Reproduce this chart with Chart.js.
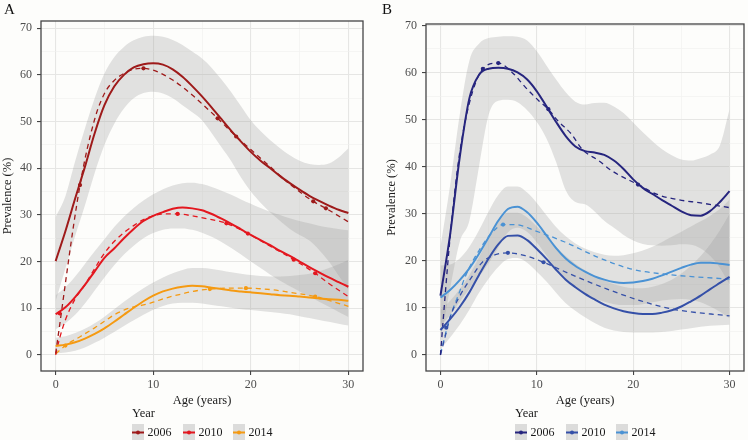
<!DOCTYPE html>
<html><head><meta charset="utf-8">
<script src="https://cdn.jsdelivr.net/npm/chart.js@4.4.1/dist/chart.umd.min.js"></script>
<style>
html,body{margin:0;padding:0;background:#fdfdfb;}
#wrap{position:relative;width:748px;height:440px;overflow:hidden;background:#fdfdfb;}
.pane{position:absolute;top:0;width:374px;height:440px;}
</style></head><body>
<div id="wrap">
<div class="pane" style="left:0"><canvas id="cA" width="374" height="440"></canvas></div>
<div class="pane" style="left:374px"><canvas id="cB" width="374" height="440"></canvas></div>
</div>
<script>
// ---------- shared categories / ticks ----------
const years = ['2006', '2010', '2014'];
const ageGrid = [0,1,2,3,4,5,6,7,8,9,10,11,12,13,14,15,16,17,18,19,20,21,22,23,24,25,26,27,28,29,30];
const xTicks = [0,5,10,15,20,25,30];
const yTicks = [0,5,10,15,20,25,30,35,40,45,50,55,60,65,70];

// ---------- Panel A : smooth fits (on ageGrid) ----------
const A2006fit = [20.1,26.5,33.5,40.3,47.5,53.5,57.5,60,61.6,62.3,62.5,62.2,61.2,59.6,57.6,55.4,53,50.5,48,45.7,43.5,41.6,40,38.3,36.8,35.4,34.1,33,32,31.1,30.4];
const A2006up  = [29.5,34,41.5,48.5,55,60.3,63.8,66,67.4,68.2,68.4,68.2,67.5,66.4,65,63.5,61.5,59,56.3,53.3,50.3,48,46,44.3,42.8,41.6,40.9,40.7,41,42.3,44.3];
const A2006lo  = [11.5,18.5,25.5,32,39,45,49.5,52.8,55,56.1,56.4,56,55,53.5,52,50.3,47.5,44.5,41.5,38,35,32.6,30.5,28.7,27,25.7,24.5,22.5,20,17,14];
const A2010fit = [8.7,10.2,12.4,15,17.9,20.8,22.8,25,27,28.7,29.8,30.6,31.3,31.6,31.4,31,30.2,29.2,28.1,26.9,25.7,24.6,23.5,22.3,21.2,20,18.8,17.7,16.6,15.6,14.6];
const A2010up  = [12.8,14.5,16.8,19.5,22.2,24.8,27.4,29.6,31.5,33.1,34.4,35.5,36.3,36.8,36.9,36.6,36,35.2,34.3,33.3,32.4,31.5,30.7,30,29.3,28.7,28.2,27.7,27.3,27,26.7];
const A2010lo  = [5.5,6.8,8.6,11,13.8,16.6,19.2,21.5,23.4,25,26.1,26.8,27.1,27.1,26.8,26.2,25.3,24.2,22.9,21.5,20,18.6,17.2,15.9,14.7,13.6,12.5,11.4,10.3,9.2,8.1];
const A2014fit = [1.9,2.2,2.7,3.5,4.5,5.7,7.1,8.6,10.1,11.5,12.7,13.6,14.2,14.6,14.8,14.7,14.4,14.1,13.8,13.6,13.4,13.2,13,12.8,12.7,12.5,12.3,12.1,11.9,11.8,11.6];
const A2014up  = [3.7,4,4.7,5.6,6.8,8.2,9.8,11.4,12.9,14.3,15.5,16.6,17.5,18.2,18.6,18.6,18.4,18.1,17.7,17.4,17.1,16.9,16.8,16.8,16.9,17.1,17.4,17.9,18.6,19.4,20.4];
const A2014lo  = [0.3,0.5,0.9,1.6,2.6,3.7,4.9,6.2,7.4,8.6,9.7,10.5,11,11.2,11.2,11,10.7,10.4,10.1,9.8,9.6,9.4,9.2,9,8.7,8.3,7.9,7.5,7.1,6.7,6.3];

// ---------- Panel A : observed (dashed) ----------
const A2006obsAge = [0,2.5,4,5,6,7,8,9,10,11,12,13,14,15,16.6,18.5,20,22,24,26.4,27.7,30];
const A2006obs    = [0.3,36.4,50.5,56,58.8,60.3,61.2,61.4,61,60.1,58.9,57.4,55.7,53.8,50.7,46.8,44,40.3,36.6,32.9,31.4,28.5];
const A2006ptAge  = [2.5,9,16.6,18.5,26.4,27.7];
const A2006pt     = [36.4,61.4,50.7,46.8,32.9,31.4];
const A2010obsAge = [0,0.4,1,2,3,4,5,6,7,8,9,10,11,12.5,14,15.5,17.5,19.7,22,24.4,26.6,28,30];
const A2010obs    = [0,3.5,7.5,12,15,18.5,21.8,24.3,26.2,27.7,29,29.8,30.2,30.2,29.8,29.2,28.2,26,23.3,20.4,17.5,15.3,12.5];
const A2010ptAge  = [0.4,12.5,17.5,19.7,24.4,26.6];
const A2010pt     = [8.9,30.2,28.2,26,20.4,17.5];
const A2014obsAge = [0,1,2.5,4,5,6,7,8,9,10,11,12,13,14,15.8,17.5,19.5,22,24,26.6,28,30];
const A2014obs    = [0.2,2,3.9,5.8,7.2,8.6,9.6,10.3,10.7,11.3,12,12.6,13.1,13.6,14.1,14.3,14.3,14,13.4,12.5,11.7,10.4];
const A2014ptAge  = [1,15.8,19.5,26.6];
const A2014pt     = [2,14.1,14.3,12.5];

// ---------- Panel B : smooth fits (on ageGrid) ----------
const B2006fit = [12.6,25.5,42,54.5,59.5,60.8,61,60.8,60,58.5,56,52.8,49.5,46.5,44.3,43.3,43,42.5,41.3,39.5,37.3,35.5,34.2,32.9,31.7,30.5,29.7,29.6,30.6,32.5,34.8];
const B2006up  = [23,36,51,62.5,66.1,67.3,67.6,67.7,67.6,66.8,64.5,61.5,58.5,55.8,53.8,53.2,53.5,53.6,52.8,51.4,49.4,47.3,45.4,43.7,42.4,41.5,41.3,41.8,42.6,44.5,52.2];
const B2006lo  = [3,14,24,28.5,40,51,54,54.2,53.7,52,49.5,46,41,35,32.5,32,30.5,28.5,27,25.5,24.3,23.6,23.3,23.2,23.3,23.5,23.4,22.6,21,18.5,15];
const B2010fit = [5.3,7.6,10.2,13.3,17,20.5,23.5,25.3,25.4,24.4,22.5,20.4,18.1,16,14.4,13,11.8,10.7,9.9,9.3,8.9,8.7,8.7,9,9.5,10.3,11.4,12.6,14,15.3,16.6];
const B2010up  = [9.5,11.5,14,17,20.8,24.8,28.3,30.2,30.2,29.2,27.3,25.2,23,21,19.4,18,16.8,15.8,15,14.5,14.2,14.2,14.5,15.1,16,17.3,19,21,23.5,26.5,30];
const B2010lo  = [1.2,3.7,6.4,9.6,13.2,16.2,18.7,20.4,20.6,19.6,17.7,15.6,13.2,11,9.4,8,6.8,5.8,5.2,4.9,4.8,4.8,4.8,4.9,5.1,5.4,5.7,6,6.2,6.3,6.4];
const B2014fit = [12.2,13.8,15.9,18.4,21.5,25,28.5,31,31.5,30.3,28.1,25.4,22.7,20.5,18.9,17.7,16.7,16,15.5,15.3,15.4,15.7,16.2,16.9,17.7,18.5,19.2,19.6,19.6,19.4,19.1];
const B2014up  = [19,19.2,20.5,23,26.5,30.5,34,35.8,35.8,34.5,32.3,29.7,27.2,25.2,23.7,22.6,21.8,21.3,21.1,21.2,21.6,22.2,23,24,25.1,26.2,27.3,28.4,29.6,31,33];
const B2014lo  = [6,8.5,11.3,14,16.6,19.5,22.8,26,27,26.1,23.9,21.1,18.3,16,14.3,13,12,11.3,10.8,10.6,10.6,10.8,11.2,11.6,11.8,11.9,11.7,11.2,10.3,9.2,7.8];

// ---------- Panel B : observed (dashed) ----------
const B2006obsAge = [0,0.5,1,1.5,2,3,4.4,6,7.6,8.8,10.2,11.2,12.2,13.6,14.7,16.4,17.8,20.5,22.5,24.6,27,30];
const B2006obs    = [0,13,25,35,43,53.5,60.8,62,59.7,56.9,54,52.2,49.7,46.9,43.7,41.3,39.1,36.2,34.1,33,32.3,31.3];
const B2006ptAge  = [4.4,6,11.2,20.5];
const B2006pt     = [60.8,62,52.2,36.2];
const B2010obsAge = [0,0.5,1,2,3,4.35,5.7,7,8.8,10.7,13.9,17.3,20.8,24.2,30];
const B2010obs    = [0,4,8,12.5,15.8,19.7,21.3,21.7,21.1,19.7,16.8,14,11.5,9.7,8.3];
const B2010ptAge  = [0.6,7,10.7];
const B2010pt     = [5.8,21.7,19.7];
const B2014obsAge = [0,1,2,2.6,4,5.4,6.5,7.8,9.8,12.9,16.3,19.7,23.1,30];
const B2014obs    = [0.3,8,13.5,16.8,22.2,26.1,27.7,27.7,26.4,24,20.8,18.3,17.2,16.1];
const B2014ptAge  = [6.5];
const B2014pt     = [27.7];

// ---------- styling ----------
const colorsA = ['#9e1a1a', '#e3171f', '#f59a12'];
const colorsB = ['#26257e', '#3550a8', '#4a92d4'];
const BAND = 'rgba(150,150,150,0.27)';
const FONT = '"Liberation Serif", "DejaVu Serif", serif';

function pts(xs, ys) { return xs.map((x, i) => ({x: x, y: ys[i]})); }

function buildDatasets(colors, fits, ups, los, obsAges, obs, ptAges, pt) {
  const ds = [];
  for (let k = 0; k < 3; k++) {
    ds.push({label: years[k] + ' fit', data: pts(ageGrid, fits[k]), borderColor: colors[k], borderWidth: 2,
      pointRadius: 0, fill: false, cubicInterpolationMode: 'monotone', order: 1});
    ds.push({label: years[k] + ' obs', data: pts(obsAges[k], obs[k]), borderColor: colors[k], borderWidth: 1.3,
      borderDash: [5, 4], pointRadius: 0, fill: false, cubicInterpolationMode: 'monotone', order: 2});
    ds.push({label: years[k] + ' pts', data: pts(ptAges[k], pt[k]), showLine: false, pointRadius: 2.1,
      pointBackgroundColor: colors[k], pointBorderWidth: 0, order: 0});
  }
  for (let k = 0; k < 3; k++) {
    ds.push({label: years[k] + ' upper', data: pts(ageGrid, ups[k]), borderWidth: 0, pointRadius: 0,
      backgroundColor: BAND, fill: '+1', cubicInterpolationMode: 'monotone', order: 3});
    ds.push({label: years[k] + ' lower', data: pts(ageGrid, los[k]), borderWidth: 0, pointRadius: 0,
      fill: false, cubicInterpolationMode: 'monotone', order: 3});
  }
  return ds;
}

const panelPlugin = {
  id: 'panelDeco',
  afterDraw(chart, args, opts) {
    const {ctx, chartArea: ca} = chart;
    ctx.save();
    ctx.strokeStyle = '#454545';
    ctx.lineWidth = 1.3;
    ctx.strokeRect(ca.left, ca.top, ca.right - ca.left, ca.bottom - ca.top);
    ctx.fillStyle = '#111';
    ctx.font = '15px ' + FONT;
    ctx.textBaseline = 'middle';
    ctx.textAlign = 'left';
    ctx.fillText(opts.tag, opts.tagX, 10);
    const left = (ca.left + ca.right) / 2 - 70;
    ctx.font = '12.5px ' + FONT;
    ctx.fillStyle = '#1a1a1a';
    ctx.fillText('Year', left, 414);
    ctx.font = '12px ' + FONT;
    const steps = [0, 51, 101];
    for (let k = 0; k < 3; k++) {
      const x = left + steps[k];
      ctx.fillStyle = '#dcdcdb';
      ctx.fillRect(x, 424, 12, 17);
      ctx.strokeStyle = opts.colors[k];
      ctx.lineWidth = 2;
      ctx.beginPath(); ctx.moveTo(x, 432.5); ctx.lineTo(x + 12, 432.5); ctx.stroke();
      ctx.fillStyle = opts.colors[k];
      ctx.beginPath(); ctx.arc(x + 6, 432.5, 2, 0, Math.PI * 2); ctx.fill();
      ctx.fillStyle = '#1a1a1a';
      ctx.fillText(years[k], x + 15.5, 432.5);
    }
    ctx.restore();
  }
};

function makeChart(id, datasets, cfg) {
  const gridColor = c => (c.tick && c.tick.value % 10 === 0) ? '#e6e6e4' : '#f0f0ee';
  const gridWidth = c => (c.tick && c.tick.value % 10 === 0) ? 1.1 : 0.6;
  const tickCol = c => (c.tick && c.tick.value % 10 === 0) ? '#444' : 'rgba(0,0,0,0)';
  return new Chart(document.getElementById(id), {
    type: 'line',
    data: {datasets: datasets},
    plugins: [panelPlugin],
    options: {
      responsive: false, animation: false, devicePixelRatio: 1,
      layout: {padding: {left: cfg.padLeft, top: cfg.padTop, right: cfg.padRight, bottom: 0}},
      plugins: {legend: {display: false}, tooltip: {enabled: false},
        panelDeco: {tag: cfg.tag, tagX: cfg.tagX, colors: cfg.colors}},
      scales: {
        x: {
          type: 'linear', min: -1.5, max: 31.5,
          afterBuildTicks: s => { s.ticks = xTicks.map(v => ({value: v})); },
          afterFit: s => { s.height = 69; },
          grid: {color: gridColor, lineWidth: gridWidth, tickColor: tickCol, tickLength: 4, drawTicks: true},
          border: {display: false},
          ticks: {padding: 3, color: '#4d4d4d', font: {family: FONT, size: 12},
            callback: v => (v % 10 === 0 ? String(v) : ''), maxRotation: 0, autoSkip: false},
          title: {display: true, text: 'Age (years)', color: '#1a1a1a', font: {family: FONT, size: 12.5},
            padding: {top: 0, bottom: 32}}
        },
        y: {
          type: 'linear', min: cfg.yMin, max: cfg.yMax,
          afterBuildTicks: s => { s.ticks = yTicks.map(v => ({value: v})); },
          afterFit: s => { s.width = cfg.yWidth; },
          grid: {color: gridColor, lineWidth: gridWidth, tickColor: tickCol, tickLength: 4, drawTicks: true},
          border: {display: false},
          ticks: {padding: 5, color: '#4d4d4d', font: {family: FONT, size: 12},
            callback: v => (v % 10 === 0 ? String(v) : ''), autoSkip: false},
          title: {display: true, text: 'Prevalence (%)', color: '#1a1a1a', font: {family: FONT, size: 12.5},
            padding: {top: 0.5, bottom: 0}}
        }
      }
    }
  });
}

makeChart('cA',
  buildDatasets(colorsA, [A2006fit, A2010fit, A2014fit], [A2006up, A2010up, A2014up], [A2006lo, A2010lo, A2014lo],
    [A2006obsAge, A2010obsAge, A2014obsAge], [A2006obs, A2010obs, A2014obs],
    [A2006ptAge, A2010ptAge, A2014ptAge], [A2006pt, A2010pt, A2014pt]),
  {padLeft: 0, padTop: 21, padRight: 11, yWidth: 41, yMin: -3.45, yMax: 71.55, tag: 'A', tagX: 4, colors: colorsA});

makeChart('cB',
  buildDatasets(colorsB, [B2006fit, B2010fit, B2014fit], [B2006up, B2010up, B2014up], [B2006lo, B2010lo, B2014lo],
    [B2006obsAge, B2010obsAge, B2014obsAge], [B2006obs, B2010obs, B2014obs],
    [B2006ptAge, B2010ptAge, B2014ptAge], [B2006pt, B2010pt, B2014pt]),
  {padLeft: 10, padTop: 24, padRight: 1, yWidth: 42, yMin: -3.4, yMax: 70.3, tag: 'B', tagX: 8, colors: colorsB});
</script>
</body></html>
